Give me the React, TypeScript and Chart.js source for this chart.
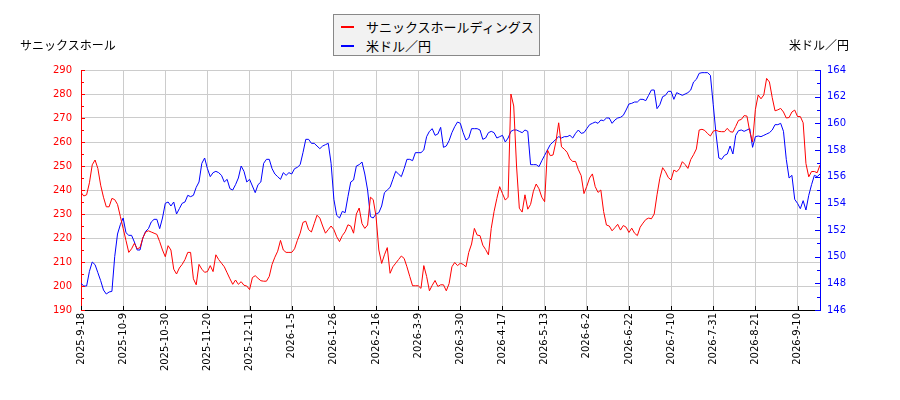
import React, { useEffect, useRef } from "react";
import { Chart, registerables } from "chart.js";

Chart.register(...registerables);

// x-axis tick labels, one every 15 trading days
const tickLabels = [
  "2025-9-18", "2025-10-9", "2025-10-30", "2025-11-20", "2025-12-11",
  "2026-1-5", "2026-1-26", "2026-2-16", "2026-3-9", "2026-3-30",
  "2026-4-17", "2026-5-13", "2026-6-2", "2026-6-22", "2026-7-10",
  "2026-7-31", "2026-8-21", "2026-9-10",
];
const tickEvery = 15;

const seriesNames = ["サニックスホールディングス", "米ドル／円"];
const leftTitle = "サニックスホール";
const rightTitle = "米ドル／円";

// サニックスホールディングス share price (left axis)
const sanixPrices = [
  239, 237.5, 238, 243, 250.5, 252.5, 249, 242, 237, 233,
  233, 236.5, 236, 234, 229, 224, 219, 214, 215.5, 217.8,
  215.5, 216, 220, 222.5, 223, 222.5, 222, 221.5, 218.5, 215,
  212.2, 216.8, 215, 207, 205, 207.5, 209, 211, 214, 214,
  203, 200.5, 209, 207, 205.7, 206, 208.5, 206, 213, 211,
  209.5, 208, 205.5, 203, 200.7, 202.5, 200.7, 201.8, 200.3, 200,
  198.5, 203.5, 204.3, 203.2, 202.2, 202, 202, 204, 209, 212,
  214.5, 219, 215, 214, 214, 214, 215.5, 219, 222, 226.5,
  227, 223.5, 222.5, 226, 229.5, 228.3, 225, 222, 223.5, 225,
  223.5, 220.5, 218.5, 221, 222.6, 225.5, 225, 222, 230, 232.5,
  226, 224, 225.4, 237, 236, 229, 215, 209.4, 213, 216,
  205.3, 208, 209.5, 211, 212.5, 211.5, 208, 204, 200.1, 200.1,
  200.1, 199, 208.5, 204, 198, 200.3, 202.3, 199.8, 200.5, 200.5,
  198, 201, 208, 209.8, 208.5, 209.5, 209, 208, 214, 217.5,
  224, 221.2, 221, 217, 215.2, 213, 224, 231, 236.5, 241.4,
  238.5, 235.8, 237, 280, 275, 250, 232.4, 230.8, 238, 232,
  234, 239.5, 242.5, 240.5, 237, 235.1, 256.7, 254.3, 254.6, 260,
  268, 258, 257, 255.7, 253, 251.9, 251.9, 248.5, 246, 238.5,
  241.5, 245, 246.7, 241.4, 239, 240, 231, 225.4, 225, 223,
  224.3, 225.7, 223.3, 225.2, 224.5, 222.3, 224.1, 222, 221, 224.5,
  226.2, 227.7, 228.3, 228, 230, 238, 244.9, 249.3, 247.6, 245.2,
  244.2, 248.3, 247.6, 248.9, 251.8, 250.6, 249, 252.7, 254.7, 257.1,
  265, 265.3, 264.8, 263.5, 262.5, 264.5, 264.9, 264.4, 264.3, 264.3,
  265.7, 264.3, 264.1, 266.5, 269, 269.4, 271, 270.8, 264.3, 260,
  273.5, 279.6, 278, 279.6, 286.5, 285, 278.5, 273, 273.4, 274,
  272.5, 270, 270.2, 272.5, 273.3, 270.6, 270.6, 268, 251, 245.5,
  247.7, 247.7, 247.2, 250.4,
];

// USD/JPY (right axis)
const usdJpy = [
  148.0, 147.8, 147.8, 148.9, 149.6, 149.4, 148.8, 148.2, 147.5, 147.2,
  147.35, 147.4, 150.0, 151.7, 152.4, 152.9, 151.8, 151.6, 151.6, 151.1,
  150.5, 150.5, 151.4, 151.9, 152.1, 152.6, 152.8, 152.8, 152.1, 152.9,
  154.0, 154.1, 153.8, 154.1, 153.2, 153.6, 154.0, 154.1, 154.6, 154.5,
  154.6, 155.2, 155.6, 157.0, 157.4, 156.6, 156.0, 156.3, 156.4, 156.3,
  156.1, 155.6, 155.8, 155.1, 155.0, 155.4, 155.9, 156.8, 156.4, 155.6,
  155.8, 155.3, 154.8, 155.4, 155.6, 157.0, 157.3, 157.3, 156.6, 156.2,
  156.0, 155.8, 156.3, 156.1, 156.3, 156.2, 156.6, 156.7, 156.9, 157.8,
  158.8, 158.8, 158.5, 158.5, 158.3, 158.1, 158.3, 158.4, 158.5, 157.0,
  154.3, 153.1, 152.9, 153.4, 153.3, 154.5, 155.6, 155.75, 156.8, 156.9,
  157.1, 156.2, 155.0, 153.0, 152.9, 153.2, 153.3, 153.8, 154.8, 155.0,
  155.2, 155.8, 156.4, 156.2, 156.0, 156.6, 157.3, 157.3, 157.2, 157.8,
  157.8, 157.8, 158.0, 159.0, 159.4, 159.6, 159.1, 159.2, 159.7, 158.2,
  158.3, 158.7, 159.3, 159.75, 160.1, 160.0, 159.3, 158.75, 158.9, 159.6,
  159.6, 159.6, 159.5, 158.8, 158.9, 159.3, 159.4, 159.3, 158.9, 159.0,
  159.1, 158.6, 158.9, 159.4, 159.5, 159.5, 159.4, 159.3, 159.5, 159.4,
  156.9, 156.9, 156.9, 156.75, 157.2, 157.6, 158.0, 158.4, 158.6, 158.8,
  159.0, 158.9, 159.0, 159.0, 159.1, 158.9, 159.25, 159.5, 159.25, 159.3,
  159.6, 159.9, 160.0, 160.1, 160.0, 160.25, 160.2, 160.4, 160.4, 160.0,
  160.25, 160.4, 160.45, 160.6, 161.0, 161.45, 161.5, 161.6, 161.6, 161.8,
  161.8, 161.7, 162.1, 162.5, 162.5, 161.1, 161.4, 162.0, 162.1, 162.4,
  162.4, 161.8, 162.3, 162.2, 162.1, 162.2, 162.3, 162.5, 163.1, 163.3,
  163.75, 163.8, 163.8, 163.8, 163.6, 161.4, 159.2, 157.4, 157.3, 157.6,
  157.7, 158.3, 157.7, 159.1, 159.45, 159.5, 159.4, 159.5, 159.6, 158.2,
  159.0, 159.05, 159.0, 159.1, 159.2, 159.3, 159.5, 159.9, 159.9, 160.0,
  159.4, 157.3, 155.9, 156.1, 154.3, 154.0, 153.6, 154.2, 153.5, 154.6,
  155.4, 156.1, 156.0, 156.2,
];

const RED = "#ff0000";
const BLUE = "#0000ff";
const GRID = "#cccccc";
const tickFont = { family: "'DejaVu Sans', sans-serif", size: 10 };
const cjkFont = "'Noto Sans CJK JP', 'DejaVu Sans', sans-serif";

// small tick marks drawn on the inside of each axis
const innerTicks = {
  id: "innerTicks",
  afterDraw(chart: any) {
    const { ctx, chartArea, scales } = chart;
    const { left, right, bottom } = chartArea;
    ctx.save();
    ctx.lineWidth = 1;

    const yl = scales.y;
    ctx.strokeStyle = RED;
    for (let v = yl.min; v <= yl.max; v += 5) {
      const py = Math.round(yl.getPixelForValue(v)) + 0.5;
      const len = v % 10 === 0 ? 4 : 3;
      ctx.beginPath();
      ctx.moveTo(left, py);
      ctx.lineTo(left + len, py);
      ctx.stroke();
    }

    const yr = scales.y1;
    ctx.strokeStyle = BLUE;
    for (let v = yr.min; v <= yr.max; v += 1) {
      const py = Math.round(yr.getPixelForValue(v)) + 0.5;
      const len = v % 2 === 0 ? 5 : 3;
      ctx.beginPath();
      ctx.moveTo(right, py);
      ctx.lineTo(right - len, py);
      ctx.stroke();
    }

    const xs = scales.x;
    ctx.strokeStyle = "#000000";
    xs.ticks.forEach((t: any) => {
      const px = Math.round(xs.getPixelForValue(t.value)) + 0.5;
      ctx.beginPath();
      ctx.moveTo(px, bottom);
      ctx.lineTo(px, bottom - 4);
      ctx.stroke();
    });
    ctx.restore();
  },
};

const App: React.FC = () => {
  const canvasRef = useRef<HTMLCanvasElement | null>(null);
  const chartRef = useRef<Chart | null>(null);

  useEffect(() => {
    if (chartRef.current) chartRef.current.destroy();
    if (!canvasRef.current) return;

    chartRef.current = new Chart(canvasRef.current, {
      type: "line",
      data: {
        datasets: [
          {
            label: seriesNames[0],
            data: sanixPrices.map((v, i) => ({ x: i, y: v })),
            borderColor: RED,
            backgroundColor: RED,
            borderWidth: 1,
            pointRadius: 0,
            yAxisID: "y",
          },
          {
            label: seriesNames[1],
            data: usdJpy.map((v, i) => ({ x: i, y: v })),
            borderColor: BLUE,
            backgroundColor: BLUE,
            borderWidth: 1,
            pointRadius: 0,
            yAxisID: "y1",
          },
        ],
      },
      options: {
        responsive: false,
        animation: false,
        layout: { padding: { top: 70, left: 0, right: 0, bottom: 0 } },
        plugins: {
          legend: { display: false },
          tooltip: { enabled: false },
        },
        scales: {
          x: {
            type: "linear",
            min: 0,
            max: sanixPrices.length - 1,
            afterFit: (s: any) => { s.height = 90; },
            ticks: {
              stepSize: tickEvery,
              includeBounds: false,
              autoSkip: false,
              minRotation: 90,
              maxRotation: 90,
              padding: 3,
              color: "#000000",
              font: tickFont,
              callback: (v: any) => tickLabels[Math.round(v / tickEvery)] ?? "",
            },
            grid: { color: GRID, drawTicks: false },
            border: { color: "#000000" },
          },
          y: {
            position: "left",
            min: 190,
            max: 290,
            afterFit: (s: any) => { s.width = 81; },
            ticks: { stepSize: 10, color: RED, font: tickFont, padding: 9 },
            grid: { color: GRID, drawTicks: false },
            border: { color: RED },
          },
          y1: {
            position: "right",
            min: 146,
            max: 164,
            afterFit: (s: any) => { s.width = 80; },
            ticks: { stepSize: 2, color: BLUE, font: tickFont, padding: 7 },
            grid: { drawOnChartArea: false, drawTicks: false },
            border: { color: BLUE },
          },
        },
      },
      plugins: [innerTicks],
    });

    return () => {
      if (chartRef.current) {
        chartRef.current.destroy();
        chartRef.current = null;
      }
    };
  }, []);

  const legendRow = (color: string, text: string) => (
    <div style={{ display: "flex", alignItems: "center", height: 19 }}>
      <span style={{ display: "inline-block", width: 13, height: 2, background: color, marginRight: 12 }} />
      <span>{text}</span>
    </div>
  );

  return (
    <div style={{ position: "fixed", left: 0, top: 0, width: 900, height: 400, background: "#ffffff" }}>
      <canvas ref={canvasRef} width={900} height={400} style={{ position: "absolute", left: 0, top: 0 }} />
      <div style={{ position: "absolute", left: 20, top: 37, fontFamily: cjkFont, fontSize: 12, lineHeight: "16px", color: "#000" }}>
        {leftTitle}
      </div>
      <div style={{ position: "absolute", right: 51, top: 37, fontFamily: cjkFont, fontSize: 12, lineHeight: "16px", color: "#000" }}>
        {rightTitle}
      </div>
      <div
        style={{
          position: "absolute",
          left: 333,
          top: 14,
          width: 207,
          height: 42,
          boxSizing: "border-box",
          border: "1px solid #888888",
          background: "#f2f2f2",
          padding: "2px 0 0 7px",
          fontFamily: cjkFont,
          fontSize: 13,
          lineHeight: "19px",
          color: "#000",
        }}
      >
        {legendRow(RED, seriesNames[0])}
        {legendRow(BLUE, seriesNames[1])}
      </div>
    </div>
  );
};

export default App;
